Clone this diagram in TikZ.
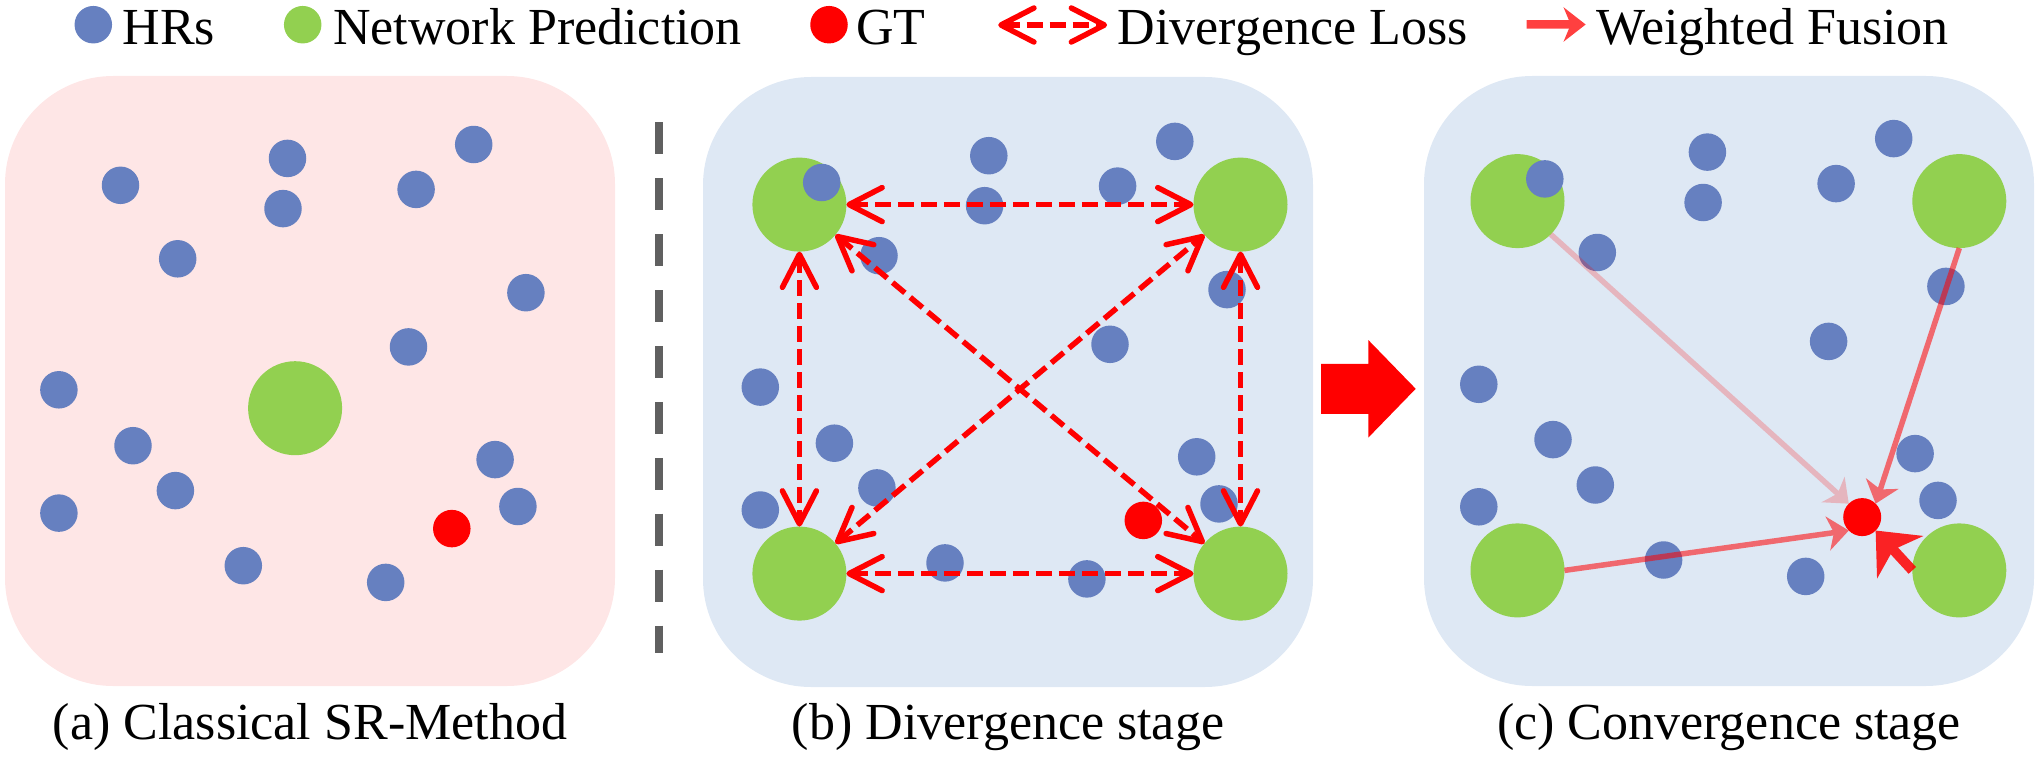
\documentclass[tikz,border=0pt]{standalone}
\usepackage{fontspec}
\setmainfont{Liberation Serif}
\newfontfamily\lserif{Liberation Serif}
\usetikzlibrary{arrows.meta}
\definecolor{hrblue}{HTML}{6680C0}
\definecolor{npgreen}{HTML}{92D050}
\definecolor{pinkbg}{HTML}{FEE6E6}
\definecolor{bluebg}{HTML}{DEE8F4}
\definecolor{dashgray}{HTML}{606060}
\begin{document}
\begin{tikzpicture}[x=1bp,y=-1bp,
  hr/.style={circle, fill=hrblue, minimum size=37.5bp, inner sep=0pt, outer sep=0pt},
  np/.style={circle, fill=npgreen, minimum size=94bp, inner sep=0pt, outer sep=0pt},
  gt/.style={circle, fill=red, minimum size=37.5bp, inner sep=0pt, outer sep=0pt},
  panel/.style={rounded corners=108bp},
  txt/.style={font=\lserif\fontsize{52bp}{62bp}\selectfont, inner sep=0pt, anchor=base west, text=black},
  captxt/.style={font=\lserif\fontsize{52bp}{62bp}\selectfont, inner sep=0pt, anchor=base, text=black},
  divloss/.style={draw=red, line width=5.5bp, dash pattern=on 16bp off 7bp,
    arrows={Straight Barb[length=33bp,width=34bp,round]-Straight Barb[length=33bp,width=34bp,round]}},
  fuse/.style={draw=red, line width=5.5bp, arrows={-Stealth[length=21bp,width=34bp,inset=6bp]}},
  bigfuse/.style={draw=red, line width=10bp, arrows={-Stealth[length=36bp,width=62bp,inset=10bp]}}
]
\useasboundingbox (0,0) rectangle (2039,757);

% ---------- panels ----------
\fill[pinkbg, panel] (5,76) rectangle (615,686);
\fill[bluebg, panel] (703,77) rectangle (1313,687);
\fill[bluebg, panel] (1424,76) rectangle (2034,686);

% ---------- separator ----------
\coordinate (s1) at (658.5,122.4);
\coordinate (s2) at (658.5,652.7);
\draw[dashgray, line width=8bp, dash pattern=on 32bp off 23.9bp] (s1) -- (s2);

% ---------- panel (a) ----------
\node[np] (aNP) at (295.1,408.2) {};
\foreach \x/\y [count=\i] in {120.5/185.3, 287.5/158.4, 283/208.6, 416.1/189.4, 473.7/144.5,
  177.7/258.8, 525.9/292.7, 408.5/346.9, 58.9/389.8, 133/445.7, 175.4/490.6, 58.9/513.1,
  495.1/459.6, 517.9/506.5, 243.3/565.7, 385.7/582.4}
  \node[hr] (a\i) at (\x,\y) {};
\node[gt] (aGT) at (451.8,528.6) {};

% ---------- panel (b) ----------
\node[np] (bTL) at (799.4,204.6) {};
\node[np] (bTR) at (1240.5,204.6) {};
\node[np] (bBL) at (799.4,573.6) {};
\node[np] (bBR) at (1240.5,573.6) {};
\foreach \x/\y [count=\i] in {821.7/182.5, 988.8/155.7, 984.6/205.7, 1117.6/186.1, 1174.8/141.4,
  879/255.7, 1227/289.6, 1110/344.3, 760.3/387.1, 834.4/443.2, 876.9/487.9, 760.3/510,
  1196.7/456.8, 1219/503.9, 945/562.9, 1086.9/578.9}
  \node[hr] (b\i) at (\x,\y) {};
\node[gt] (bGT) at (1143.3,520.4) {};
\draw[divloss] (bTL) -- (bTR);
\draw[divloss] (bBL) -- (bBR);
\draw[divloss] (bTL) -- (bBL);
\draw[divloss] (bTR) -- (bBR);
\draw[divloss] (bTL) -- (bBR);
\draw[divloss] (bBL) -- (bTR);

% ---------- big arrow ----------
\fill[red] (1321,363.8) -- (1368.3,363.8) -- (1368.3,340) -- (1415.7,388.8) -- (1368.3,437.6)
  -- (1368.3,413.8) -- (1321,413.8) -- cycle;

% ---------- panel (c) ----------
\node[np] (cTL) at (1517.5,201.1) {};
\node[np] (cTR) at (1959.3,201.1) {};
\node[np] (cBL) at (1517.5,570.4) {};
\node[np] (cBR) at (1959.3,570.4) {};
\foreach \x/\y [count=\i] in {1544.8/178.9, 1707.4/152.1, 1703.1/202.5, 1836.1/183.6, 1893.7/138.6,
  1597.3/252.5, 1945.9/286.4, 1828.6/341.4, 1478.8/384.3, 1553/439.6, 1595.3/485, 1478.8/506.8,
  1915.1/453.6, 1938/500.4, 1663.6/560, 1805.7/576.4}
  \node[hr] (c\i) at (\x,\y) {};
\node[gt, minimum size=38bp] (cGT) at (1862.2,517.1) {};
\begin{scope}[transparency group, opacity=0.22]
  \draw[fuse] (cTL.south east) -- (cGT.north west);
\end{scope}
\begin{scope}[transparency group, opacity=0.55]
  \draw[fuse] (cTR.south) -- (cGT.north east);
\end{scope}
\begin{scope}[transparency group, opacity=0.55]
  \draw[fuse] (cBL.east) -- (cGT.south west);
\end{scope}
\begin{scope}[transparency group, opacity=0.85]
  \draw[bigfuse] (cBR.west) -- (cGT.south east);
\end{scope}

% ---------- legend ----------
\node[hr] (lHR) at (93.3,24.7) {};
\node[txt] (tHR) at (122.5,44.3) {HRs};
\node[np, minimum size=37.5bp] (lNP) at (302.7,24.7) {};
\node[txt] (tNP) at (333,44.3) {Network Prediction};
\node[gt] (lGT) at (829,24.7) {};
\node[txt] (tGT) at (856,44.3) {GT};
\coordinate (d1) at (998.2,25);
\coordinate (d2) at (1107.1,25);
\draw[divloss] (d1) -- (d2);
\node[txt] (tDL) at (1117.5,44.3) {Divergence Loss};
\coordinate (w1) at (1526.5,24.5);
\coordinate (w2) at (1585.7,24.5);
\begin{scope}[transparency group, opacity=0.75]
  \draw[draw=red, line width=8.5bp, arrows={-Stealth[length=22bp,width=34bp,inset=7bp]}] (w1) -- (w2);
\end{scope}
\node[txt] (tWF) at (1596,44.3) {Weighted Fusion};

% ---------- captions ----------
\node[captxt] (capA) at (310,739) {(a) Classical SR-Method};
\node[captxt] (capB) at (1008,739) {(b) Divergence stage};
\node[captxt] (capC) at (1729,739) {(c) Convergence stage};
\end{tikzpicture}
\end{document}
